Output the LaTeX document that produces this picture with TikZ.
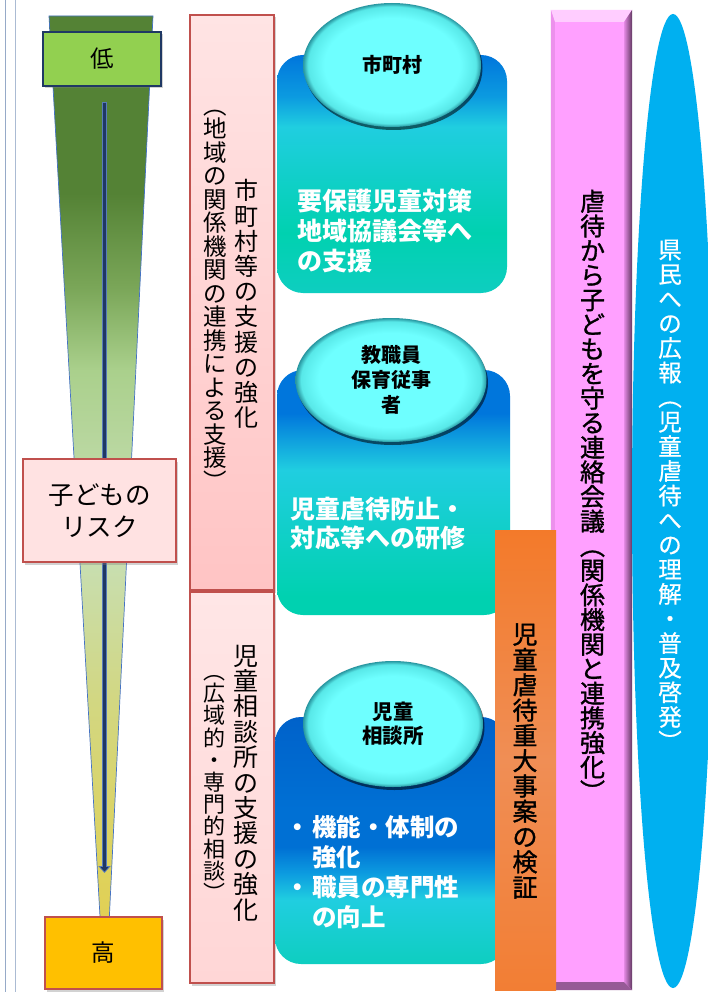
\documentclass[tikz,border=0pt]{standalone}
\usepackage{fontspec}
\setmainfont{Noto Sans CJK JP}
\newfontfamily\jpheavy{Noto Sans CJK JP}[FakeBold=1.2]
\newfontfamily\jpmid{Noto Sans CJK JP}[FakeBold=0.6]
\usetikzlibrary{shapes.geometric,shadows,calc,arrows.meta}

\definecolor{lgreen}{RGB}{146,208,80}
\definecolor{navy}{RGB}{31,56,100}
\definecolor{arrblue}{RGB}{88,124,185}
\definecolor{funline}{RGB}{68,114,196}
\definecolor{pinkfill}{RGB}{255,226,226}
\definecolor{pinkT}{RGB}{255,228,228}
\definecolor{pinkB}{RGB}{255,196,196}
\definecolor{pinkT2}{RGB}{255,230,230}
\definecolor{pinkB2}{RGB}{255,214,214}
\definecolor{redline}{RGB}{192,80,77}
\definecolor{gold}{RGB}{255,192,0}
\definecolor{sideline}{RGB}{150,170,200}
\definecolor{skyb}{RGB}{0,176,240}
\definecolor{magbar}{RGB}{255,160,255}
\definecolor{magtop}{RGB}{255,205,255}
\definecolor{magleft}{RGB}{236,145,236}
\definecolor{magbot}{RGB}{150,90,150}
\definecolor{magR1}{RGB}{225,135,225}
\definecolor{magR2}{RGB}{95,55,95}
\definecolor{orT}{RGB}{243,122,42}
\definecolor{orM}{RGB}{240,142,85}
\definecolor{orB}{RGB}{242,126,52}
% funnel colours
\definecolor{funA}{RGB}{84,130,53}
\definecolor{funA2}{RGB}{122,166,88}
\definecolor{funB}{RGB}{170,208,140}
\definecolor{funC}{RGB}{185,215,160}
\definecolor{funD}{RGB}{200,222,175}
\definecolor{funE}{RGB}{210,215,130}
\definecolor{funF}{RGB}{222,210,92}
\definecolor{funG}{RGB}{225,208,85}
% box colours
\definecolor{bxBlue}{RGB}{0,118,220}
\definecolor{bxTrans}{RGB}{12,155,224}
\definecolor{bxCyan}{RGB}{32,206,224}
\definecolor{bxTeal}{RGB}{0,209,176}
\definecolor{bxTeal2}{RGB}{14,206,192}
\definecolor{bxDeep}{RGB}{0,98,202}
\definecolor{bxDeep2}{RGB}{0,112,212}
% bubble colours
\definecolor{ellin}{RGB}{110,255,255}
\definecolor{ellmid}{RGB}{88,232,232}
\definecolor{ellout}{RGB}{40,150,160}

\pgfdeclareverticalshading{funnelsh}{100bp}{color(0bp)=(funG); color(25bp)=(funG); color(27.8bp)=(funF); color(37.2bp)=(funE); color(44.6bp)=(funD); color(51bp)=(funC); color(55.4bp)=(funB); color(60bp)=(funA2); color(65.2bp)=(funA); color(75bp)=(funA); color(100bp)=(funA)}
\pgfdeclareverticalshading{boxAsh}{100bp}{color(0bp)=(bxTeal2); color(25bp)=(bxTeal2); color(37.6bp)=(bxTeal); color(59.9bp)=(bxCyan); color(66.2bp)=(bxTrans); color(75bp)=(bxBlue); color(100bp)=(bxBlue)}
\pgfdeclareverticalshading{boxBsh}{100bp}{color(0bp)=(bxTeal); color(28.7bp)=(bxTeal); color(54.6bp)=(bxCyan); color(66.2bp)=(bxBlue); color(75bp)=(bxBlue); color(100bp)=(bxBlue)}
\pgfdeclareverticalshading{boxCsh}{100bp}{color(0bp)=(bxTeal2); color(25bp)=(bxTeal2); color(38bp)=(bxCyan); color(43.4bp)=(bxTrans); color(48.7bp)=(bxDeep2); color(56.2bp)=(bxDeep2); color(75bp)=(bxDeep); color(100bp)=(bxDeep)}
\pgfdeclareradialshading{ellsh}{\pgfpoint{0bp}{0bp}}{color(0bp)=(ellin); color(19bp)=(ellin); color(23.6bp)=(ellmid); color(25bp)=(ellout); color(50bp)=(ellout)}
\pgfdeclarehorizontalshading{magright}{100bp}{color(0bp)=(magR1); color(25bp)=(magR1); color(75bp)=(magR2); color(100bp)=(magR2)}

\makeatletter
\newcommand\vst[2]{\vbox{\baselineskip=#1\relax\lineskiplimit=-100pt\lineskip=0pt\vst@loop#2\vst@end}}
\def\vst@end{\vst@end}
\def\vst@loop#1{\ifx#1\vst@end\else\hbox to 1em{\hss#1\hss}\expandafter\vst@loop\fi}
\makeatother
\newcommand\fsz[2]{\fontsize{#1pt}{#2pt}\selectfont}

\tikzset{
  lvlbox/.style={draw=#1, line width=1.2pt, inner sep=0,
    drop shadow={shadow xshift=2pt, shadow yshift=-2.5pt, opacity=.35}},
  vcol/.style={inner sep=0, anchor=center},
  cyanbox/.style={rounded corners=26pt, inner sep=0},
  bubble/.style={ellipse, inner sep=0, shading=ellsh, align=center,
    drop shadow={shadow xshift=1.5pt, shadow yshift=-3pt, opacity=.55, fill=black},
    font=\bfseries\fsz{20}{25}},
  whitetxt/.style={text=white, align=left, anchor=west, inner sep=0},
}

\begin{document}
\begin{tikzpicture}[x=1pt,y=-1pt]
\useasboundingbox (0,0) rectangle (707,992);
\fill[white] (0,0) rectangle (707,992);

% side lines
\draw[sideline, line width=1.8pt] (5.5,0) -- (5.5,992);
\draw[sideline!80, line width=1pt] (15,0) -- (15,992);

% funnel
\path[shading=funnelsh, draw=funline, line width=0.7pt]
  (49,16) -- (153,16) -- (109.2,920) -- (100.2,920) -- cycle;

% arrow inside funnel
\coordinate (aS) at (104.5,102);
\coordinate (aE) at (104.5,873);
\draw[arrblue, line width=5.5pt, -{Triangle[width=12pt,length=7pt]}] (aS) -- (aE);
\draw[navy, line width=3pt, -{Triangle[width=8pt,length=4.5pt]}] ($(aS)+(0,1)$) -- ($(aE)+(0,-1.5)$);

% level boxes
\node[lvlbox=navy, fill=lgreen, minimum width=118pt, minimum height=54pt,
      font=\fsz{23.5}{23.5}] (low) at (102,59) {低};
\node[lvlbox=redline, fill=pinkfill, minimum width=153pt, minimum height=103pt,
      align=center, font=\fsz{25.5}{32}] (risk) at (99.5,510.5) {子どもの\\リスク};
\node[lvlbox=redline, fill=gold, minimum width=117pt, minimum height=72pt,
      font=\fsz{23.5}{23.5}] (high) at (103.5,953) {高};

% pink support boxes
\node[lvlbox=redline, top color=pinkT, bottom color=pinkB,
      minimum width=84pt, minimum height=575pt] (sup1) at (232,302.5) {};
\node[vcol, font=\fsz{24}{24}] (sup1a) at (246,304) {\vst{25.2pt}{市町村等の支援の強化}};
\node[vcol, font=\fsz{23.5}{23.5}] (sup1b) at (215,300) {\vst{23.5pt}{︵地域の関係機関の連携による支援︶}};

\node[lvlbox=redline, top color=pinkT2, bottom color=pinkB2,
      minimum width=84pt, minimum height=391pt] (sup2) at (232,787.5) {};
\node[vcol, font=\fsz{25}{25}] (sup2a) at (246,783) {\vst{25.4pt}{児童相談所の支援の強化}};
\node[vcol, font=\fsz{22}{22}] (sup2b) at (214,788.5) {\vst{22.2pt}{︵広域的・専門的相談︶}};

% cyan boxes
\node[cyanbox, shading=boxAsh, minimum width=230pt, minimum height=238pt] (boxA) at (392,174) {};
\node[whitetxt, font=\bfseries\fsz{25}{30}] (txtA) at (297,231) {要保護児童対策\\地域協議会等へ\\の支援};

\node[cyanbox, shading=boxBsh, minimum width=233pt, minimum height=245pt] (boxB) at (393.5,492.5) {};
\node[whitetxt, font=\bfseries\fsz{25}{29}] (txtB) at (290,524) {児童虐待防止・\\対応等への研修};

\node[cyanbox, shading=boxCsh, minimum width=232pt, minimum height=247pt] (boxC) at (391,840.5) {};
\node[whitetxt, font=\bfseries\fsz{24.5}{30}] (txtC) at (312,872)
  {\llap{・\kern2pt}機能・体制の\\強化\\\llap{・\kern2pt}職員の専門性\\の向上};

% bubbles
\node[bubble, minimum width=178pt, minimum height=124pt] (ellA) at (392,65) {市町村};
\node[bubble, minimum width=191pt, minimum height=124pt] (ellB) at (391,380) {教職員\\保育従事\\者};
\node[bubble, minimum width=180pt, minimum height=126pt, font=\bfseries\fsz{20.5}{24}] (ellC) at (393,724) {児童\\相談所};

% magenta bar (bevelled)
\node[fill=magbar, minimum width=81pt, minimum height=980pt, inner sep=0] (bar) at (591.5,500) {};
\fill[magtop] (bar.north west) -- (bar.north east) -- ($(bar.north east)+(-8,12)$) -- ($(bar.north west)+(4,12)$) -- cycle;
\fill[magleft] (bar.north west) -- ($(bar.north west)+(4,12)$) -- ($(bar.south west)+(4,-8)$) -- (bar.south west) -- cycle;
\path[shading=magright] (bar.north east) -- (bar.south east) -- ($(bar.south east)+(-8,-8)$) -- ($(bar.north east)+(-8,12)$) -- cycle;
\fill[magbot] (bar.south west) -- (bar.south east) -- ($(bar.south east)+(-8,-8)$) -- ($(bar.south west)+(4,-8)$) -- cycle;
\node[vcol, font=\jpheavy\fsz{25}{25}] (bartxt) at (592.5,495.5) {\vst{24.6pt}{虐待から子どもを守る連絡会議︵関係機関と連携強化︶}};

% public awareness ellipse
\node[ellipse, fill=skyb, minimum width=82pt, minimum height=974pt, inner sep=0] (pub) at (673,501) {};
\node[vcol, text=white, font=\jpmid\fsz{23.5}{23.5}] (pubtxt) at (670,495) {\vst{24.6pt}{県民への広報︵児童虐待への理解・普及啓発︶}};

% orange review box
\node[top color=orT, bottom color=orB, middle color=orM, minimum width=61pt, minimum height=460pt, inner sep=0] (rev) at (525.5,760) {};
\node[vcol, font=\jpheavy\fsz{25}{25}] (revtxt) at (525,761) {\vst{25.3pt}{児童虐待重大事案の検証}};

\end{tikzpicture}
\end{document}
